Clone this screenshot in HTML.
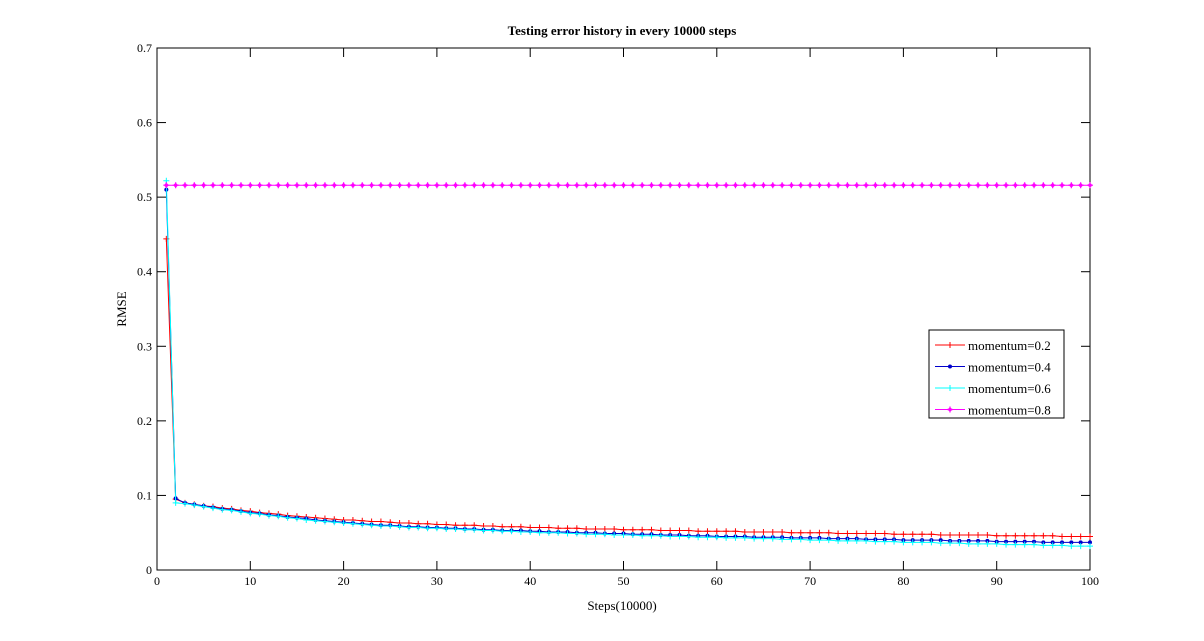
<!DOCTYPE html>
<html><head><meta charset="utf-8"><style>
body{margin:0;background:#fff;}
svg{display:block;font-family:"Liberation Serif",serif;}
</style></head><body>
<svg id="chart" width="1204" height="641">
<rect x="0" y="0" width="1204" height="641" fill="#fff"/>
<rect x="157" y="48" width="933" height="522" fill="#fff" stroke="#000" stroke-width="1"/>
<text x="622" y="35" text-anchor="middle" font-size="13" font-weight="bold">Testing error history in every 10000 steps</text>
<text x="622" y="610" text-anchor="middle" font-size="13">Steps(10000)</text>
<text x="126" y="309" text-anchor="middle" font-size="13" transform="rotate(-90 126 309)">RMSE</text>
<g id="axes"></g>
<g id="series"></g>
<g id="legend">
<rect x="929" y="330" width="135" height="88" fill="#fff" stroke="#000"/>
</g>
</svg>
<script>
const xTicks=[0,10,20,30,40,50,60,70,80,90,100];
const yTicks=[0,0.1,0.2,0.3,0.4,0.5,0.6,0.7];
const seriesNames=["momentum=0.2","momentum=0.4","momentum=0.6","momentum=0.8"];
const red=[0.444,0.095,0.090,0.088,0.086,0.085,0.083,0.082,0.080,0.079,
0.077,0.076,0.075,0.073,0.072,0.071,0.070,0.069,0.068,0.067,
0.067,0.066,0.065,0.065,0.064,0.063,0.063,0.062,0.062,0.061,
0.061,0.060,0.060,0.060,0.059,0.059,0.058,0.058,0.058,0.057,
0.057,0.057,0.056,0.056,0.056,0.055,0.055,0.055,0.055,0.054,
0.054,0.054,0.054,0.053,0.053,0.053,0.053,0.052,0.052,0.052,
0.052,0.052,0.051,0.051,0.051,0.051,0.051,0.050,0.050,0.050,
0.050,0.050,0.049,0.049,0.049,0.049,0.049,0.049,0.048,0.048,
0.048,0.048,0.048,0.047,0.047,0.047,0.047,0.047,0.047,0.046,
0.046,0.046,0.046,0.046,0.046,0.046,0.045,0.045,0.045,0.045];
const blue=[0.510,0.096,0.090,0.088,0.086,0.084,0.082,0.081,0.079,0.077,
0.076,0.074,0.073,0.071,0.070,0.069,0.067,0.066,0.065,0.064,
0.063,0.062,0.061,0.060,0.060,0.059,0.058,0.058,0.057,0.057,
0.056,0.056,0.055,0.055,0.054,0.054,0.053,0.053,0.053,0.052,
0.052,0.051,0.051,0.051,0.050,0.050,0.050,0.049,0.049,0.049,
0.048,0.048,0.048,0.047,0.047,0.047,0.046,0.046,0.046,0.045,
0.045,0.045,0.045,0.044,0.044,0.044,0.044,0.043,0.043,0.043,
0.043,0.042,0.042,0.042,0.042,0.041,0.041,0.041,0.041,0.040,
0.040,0.040,0.040,0.040,0.039,0.039,0.039,0.039,0.039,0.038,
0.038,0.038,0.038,0.038,0.037,0.037,0.037,0.037,0.037,0.037];
const cyan=[0.522,0.090,0.089,0.087,0.085,0.083,0.081,0.080,0.078,0.076,
0.075,0.073,0.072,0.070,0.069,0.067,0.066,0.065,0.064,0.063,
0.062,0.061,0.060,0.059,0.059,0.058,0.057,0.057,0.056,0.056,
0.055,0.055,0.054,0.054,0.053,0.053,0.052,0.052,0.051,0.051,
0.050,0.050,0.050,0.049,0.049,0.048,0.048,0.048,0.047,0.047,
0.047,0.046,0.046,0.046,0.045,0.045,0.045,0.044,0.044,0.044,
0.043,0.043,0.043,0.042,0.042,0.042,0.041,0.041,0.041,0.040,
0.040,0.040,0.039,0.039,0.039,0.039,0.038,0.038,0.038,0.037,
0.037,0.037,0.037,0.036,0.036,0.036,0.035,0.035,0.035,0.035,
0.034,0.034,0.034,0.034,0.033,0.033,0.033,0.032,0.032,0.032];
const magenta=[0.516,0.516,0.516,0.516,0.516,0.516,0.516,0.516,0.516,0.516,
0.516,0.516,0.516,0.516,0.516,0.516,0.516,0.516,0.516,0.516,
0.516,0.516,0.516,0.516,0.516,0.516,0.516,0.516,0.516,0.516,
0.516,0.516,0.516,0.516,0.516,0.516,0.516,0.516,0.516,0.516,
0.516,0.516,0.516,0.516,0.516,0.516,0.516,0.516,0.516,0.516,
0.516,0.516,0.516,0.516,0.516,0.516,0.516,0.516,0.516,0.516,
0.516,0.516,0.516,0.516,0.516,0.516,0.516,0.516,0.516,0.516,
0.516,0.516,0.516,0.516,0.516,0.516,0.516,0.516,0.516,0.516,
0.516,0.516,0.516,0.516,0.516,0.516,0.516,0.516,0.516,0.516,
0.516,0.516,0.516,0.516,0.516,0.516,0.516,0.516,0.516,0.516];

const NS="http://www.w3.org/2000/svg";
const X0=157,X1=1090,Y0=570,Y1=48;
function sx(v){return X0+(v-0)/(100-0)*(X1-X0);}
function sy(v){return Y0-(v-0)/(0.7-0)*(Y0-Y1);}
function mk(tag,attrs,parent){const e=document.createElementNS(NS,tag);for(const k in attrs)e.setAttribute(k,attrs[k]);parent.appendChild(e);return e;}

const axes=document.getElementById('axes');
xTicks.forEach(t=>{
  const x=sx(t);
  const l1=mk('line',{x1:x,x2:x,y1:Y0,y2:Y0-9,stroke:'#000'},axes);
  
  
  mk('line',{x1:x,x2:x,y1:Y1,y2:Y1+9,stroke:'#000'},axes);
  const tx=mk('text',{x:x,y:Y0+15,'text-anchor':'middle','font-size':'12'},axes);
  tx.textContent=t;
  
  
});
yTicks.forEach(t=>{
  const y=sy(t);
  const l1=mk('line',{x1:X0,x2:X0+9,y1:y,y2:y,stroke:'#000'},axes);
  
  
  mk('line',{x1:X1,x2:X1-9,y1:y,y2:y,stroke:'#000'},axes);
  const tx=mk('text',{x:X0-5,y:y+4,'text-anchor':'end','font-size':'12'},axes);
  tx.textContent=t===0?'0':t.toFixed(1);
  
  
});

const sg=document.getElementById('series');
const defs=[[red,'#ff0000','plus'],[blue,'#0000cc','dot'],[cyan,'#00ffff','plus'],[magenta,'#ff00ff','star']];
function marker(g,x,y,color,type){
  if(type==='plus'){
    mk('path',{d:`M${x-3} ${y}H${x+3}M${x} ${y-3}V${y+3}`,stroke:color,'stroke-width':1,fill:'none'},g);
  }else if(type==='dot'){
    mk('circle',{cx:x,cy:y,r:2,fill:color},g);
  }else{
    mk('path',{d:`M${x-3} ${y}H${x+3}M${x} ${y-3}V${y+3}`,stroke:color,'stroke-width':1.2,fill:'none'},g);
    mk('circle',{cx:x,cy:y,r:1.8,fill:color},g);
  }
}
defs.forEach(([data,color,type],i)=>{
  const g=mk('g',{},sg);
  
  
  const pts=data.map((v,k)=>sx(k+1).toFixed(2)+','+sy(v).toFixed(2)).join(' ');
  mk('polyline',{points:pts,fill:'none',stroke:color,'stroke-width':1},g);
  data.forEach((v,k)=>marker(g,sx(k+1),sy(v),color,type));
});

const lg=document.getElementById('legend');
defs.forEach(([d,color,type],i)=>{
  const y=345+i*21.5;
  const g=mk('g',{},lg);
  
  
  mk('line',{x1:935,x2:965,y1:y,y2:y,stroke:color,'stroke-width':1},g);
  marker(g,950,y,color,type);
  const t=mk('text',{x:968,y:y+5,'font-size':'13'},g);
  t.textContent=seriesNames[i];
});
</script>
</body></html>
